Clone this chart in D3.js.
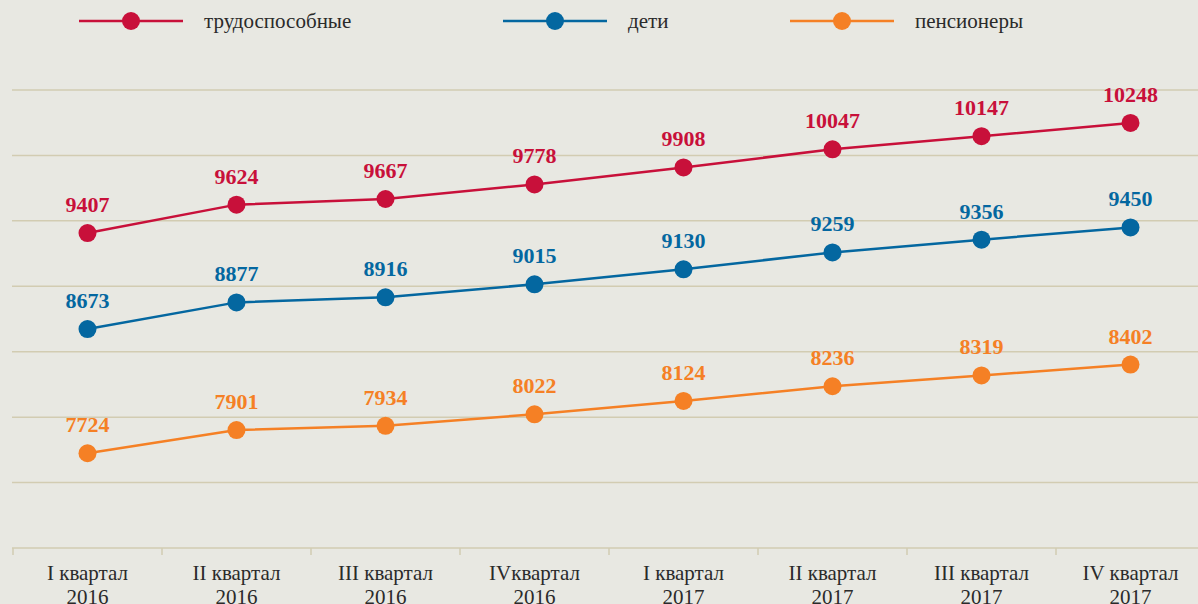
<!DOCTYPE html>
<html>
<head>
<meta charset="utf-8">
<script src="https://cdn.jsdelivr.net/npm/d3@7"></script>
<style>
  body { margin: 0; background: #e8e8e2; }
  svg { display: block; }
</style>
</head>
<body>
<div id="chart"></div>
<script>
// Данные
const quarters = ["I квартал|2016", "II квартал|2016", "III квартал|2016", "IVквартал|2016",
                  "I квартал|2017", "II квартал|2017", "III квартал|2017", "IV квартал|2017"];
const workers = [9407, 9624, 9667, 9778, 9908, 10047, 10147, 10248];
const children = [8673, 8877, 8916, 9015, 9130, 9259, 9356, 9450];
const pensioners = [7724, 7901, 7934, 8022, 8124, 8236, 8319, 8402];
const gridValues = [7000, 7500, 8000, 8500, 9000, 9500, 10000, 10500];

const series = [
    { name: "трудоспособные", values: workers, color: "#c8103a" },
    { name: "дети", values: children, color: "#0467a0" },
    { name: "пенсионеры", values: pensioners, color: "#f58025" }
];

const width = 1198, height = 604;
const serif = "'Liberation Serif', 'DejaVu Serif', serif";

const svg = d3.select("#chart").append("svg")
    .attr("width", width)
    .attr("height", height);

svg.append("rect").attr("width", width).attr("height", height).attr("fill", "#e8e8e2");

// Шкалы
const x = d3.scaleBand().domain(quarters).range([13, 1205]);
const y = d3.scaleLinear().domain([7000, 10500]).range([548, 90]);

// Сетка
svg.append("g")
    .selectAll("line")
    .data(gridValues)
    .join("line")
    .attr("x1", 12)
    .attr("x2", width)
    .attr("y1", d => y(d))
    .attr("y2", d => y(d))
    .attr("stroke", "#d2ccb2")
    .attr("stroke-width", 1.5);

// Ось X
const xAxis = svg.append("g")
    .attr("transform", `translate(0,${y(7000)})`);

xAxis.selectAll("line.tick")
    .data(quarters)
    .join("line")
    .attr("class", "tick")
    .attr("x1", d => x(d))
    .attr("x2", d => x(d))
    .attr("y1", 0)
    .attr("y2", 7)
    .attr("stroke", "#d2ccb2")
    .attr("stroke-width", 1.5);

const labels = xAxis.selectAll("text")
    .data(quarters)
    .join("text")
    .attr("x", d => x(d) + x.bandwidth() / 2)
    .attr("text-anchor", "middle")
    .style("font-family", serif)
    .style("font-size", "21px")
    .attr("fill", "#2a2a2a");

labels.append("tspan").attr("x", d => x(d) + x.bandwidth() / 2).attr("y", 32).text(d => d.split("|")[0]);
labels.append("tspan").attr("x", d => x(d) + x.bandwidth() / 2).attr("y", 56).text(d => d.split("|")[1]);

// Линии
const line = d3.line()
    .x((d, i) => x(quarters[i]) + x.bandwidth() / 2)
    .y(d => y(d));

series.forEach(s => {
    const g = svg.append("g");
    g.append("path")
        .datum(s.values)
        .attr("d", line)
        .attr("fill", "none")
        .attr("stroke", s.color)
        .attr("stroke-width", 2.5);

    g.selectAll("circle")
        .data(s.values)
        .join("circle")
        .attr("cx", (d, i) => x(quarters[i]) + x.bandwidth() / 2)
        .attr("cy", d => y(d))
        .attr("r", 9)
        .attr("fill", s.color);

    g.selectAll("text")
        .data(s.values)
        .join("text")
        .attr("x", (d, i) => x(quarters[i]) + x.bandwidth() / 2)
        .attr("y", d => y(d) - 21)
        .attr("text-anchor", "middle")
        .style("font-family", serif)
        .style("font-weight", "bold")
        .style("font-size", "22px")
        .attr("fill", s.color)
        .text(d => d);
});

// Легенда
const legendX = [79, 503, 790];
series.forEach((s, i) => {
    const lg = svg.append("g").attr("transform", `translate(${legendX[i]},21)`);
    lg.append("line")
        .attr("x1", 0).attr("x2", 104)
        .attr("stroke", s.color).attr("stroke-width", 2.5);
    lg.append("circle").attr("cx", 52).attr("r", 9).attr("fill", s.color);
    lg.append("text")
        .attr("x", 125)
        .attr("y", 7)
        .style("font-family", serif)
        .style("font-size", "21px")
        .attr("fill", "#2a2a2a")
        .text(s.name);
});
</script>
</body>
</html>
